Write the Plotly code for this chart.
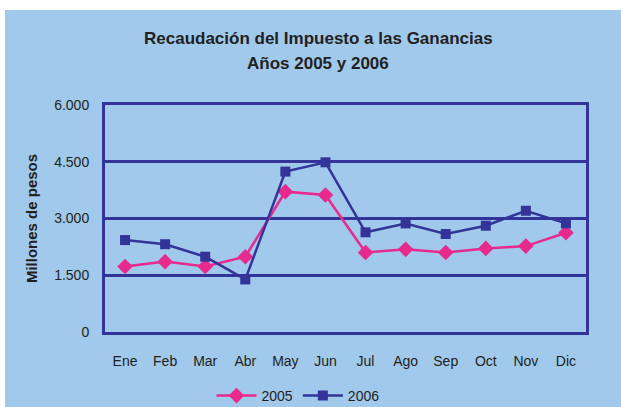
import plotly.graph_objects as go

meses = ["Ene", "Feb", "Mar", "Abr", "May", "Jun", "Jul", "Ago", "Sep", "Oct", "Nov", "Dic"]
serie_2005 = [1730, 1860, 1730, 1990, 3710, 3620, 2100, 2185, 2100, 2210, 2270, 2625]
serie_2006 = [2430, 2320, 1990, 1390, 4240, 4485, 2635, 2870, 2590, 2810, 3205, 2870]
y_ticks = [0, 1500, 3000, 4500, 6000]
y_labels = ["0", "1.500", "3.000", "4.500", "6.000"]

W, H = 621, 407
ML, MR, MT, MB = 105, 35, 105, 75
PW, PH = W - ML - MR, H - MT - MB

BLUE = "#333399"
PINK = "#E8298E"
BG = "#A0C9EB"
TXT = "#231F20"

def px_x(p):
    return (p - ML) / PW

def px_y(p):
    return (H - MB - p) / PH

fig = go.Figure()
fig.add_trace(go.Scatter(
    x=meses, y=serie_2005, name="2005", mode="lines+markers",
    line=dict(color=PINK, width=2.5),
    marker=dict(symbol="diamond", size=12, color=PINK),
))
fig.add_trace(go.Scatter(
    x=meses, y=serie_2006, name="2006", mode="lines+markers",
    line=dict(color=BLUE, width=2.5),
    marker=dict(symbol="square", size=10, color=BLUE),
))

fig.update_layout(
    width=W, height=H,
    margin=dict(l=ML, r=MR, t=MT, b=MB, autoexpand=False),
    paper_bgcolor="white",
    plot_bgcolor="white",
    font=dict(family="Liberation Sans, Arial, sans-serif", size=14, color=TXT),
    shapes=[dict(
        type="rect", xref="paper", yref="paper", layer="below",
        x0=px_x(5), x1=px_x(W + 5), y0=px_y(H + 5), y1=px_y(10),
        fillcolor=BG, line=dict(width=0),
    )],
    annotations=[
        dict(text="<b>Recaudación del Impuesto a las Ganancias</b>", xref="paper", yref="paper",
             x=px_x(318), y=px_y(39), showarrow=False, font=dict(size=17, color=TXT),
             xanchor="center", yanchor="middle"),
        dict(text="<b>Años 2005 y 2006</b>", xref="paper", yref="paper",
             x=px_x(318), y=px_y(64), showarrow=False, font=dict(size=17, color=TXT),
             xanchor="center", yanchor="middle"),
    ],
    showlegend=True,
    legend=dict(orientation="h", x=px_x(298), y=px_y(380), xanchor="center", yanchor="top",
                bgcolor="rgba(0,0,0,0)", font=dict(size=14, color=TXT), itemwidth=40,
                tracegroupgap=0),
)

fig.update_xaxes(
    type="category", range=[-0.5, 11.5],
    showline=True, linecolor=BLUE, linewidth=3, mirror=True,
    showgrid=False, ticks="", ticklabelstandoff=14,
    tickfont=dict(size=14, color=TXT),
)
fig.update_yaxes(
    range=[0, 6000], tickvals=y_ticks, ticktext=y_labels,
    showline=True, linecolor=BLUE, linewidth=3, mirror=True,
    showgrid=True, gridcolor=BLUE, gridwidth=2.5, zeroline=False,
    ticks="", ticklabelstandoff=10,
    tickfont=dict(size=14, color=TXT),
    title=dict(text="<b>Millones de pesos</b>", font=dict(size=15, color=TXT), standoff=13),
)

fig.write_html("out.html", config={"displayModeBar": False},
               post_script="document.body.style.margin='0';")
